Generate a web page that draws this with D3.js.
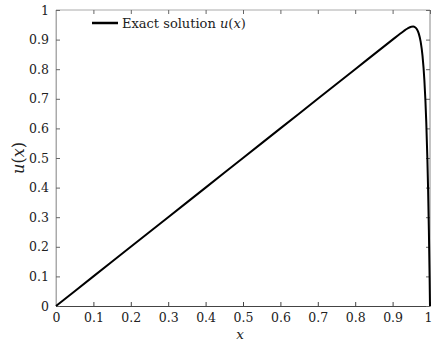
<!DOCTYPE html>
<html><head><meta charset="utf-8">
<script src="https://cdn.jsdelivr.net/npm/d3@7"></script>
<style>body{margin:0;background:#fff}svg{display:block}text{font-family:"DejaVu Serif","Liberation Serif",serif;fill:#222}</style>
</head><body>
<svg id="c" width="432" height="340"></svg>
<script>
const xValues = [0, 0.1, 0.2, 0.3, 0.4, 0.5, 0.6, 0.7, 0.8, 0.9, 0.92, 0.93, 0.94, 0.95, 0.955, 0.96, 0.965, 0.97, 0.975, 0.98, 0.985, 0.99, 0.993, 0.995, 0.997, 0.999, 1.0];
const uValues = [0, 0.1, 0.2, 0.3, 0.4, 0.5, 0.6, 0.7, 0.8, 0.9, 0.9197, 0.9291, 0.9375, 0.9433, 0.9439, 0.9417, 0.9348, 0.9202, 0.8929, 0.8447, 0.7619, 0.6221, 0.4964, 0.3885, 0.2562, 0.0942, 0];
const xTicks = [0, 0.1, 0.2, 0.3, 0.4, 0.5, 0.6, 0.7, 0.8, 0.9, 1];
const yTicks = [0, 0.1, 0.2, 0.3, 0.4, 0.5, 0.6, 0.7, 0.8, 0.9, 1];
const legendLabel = "Exact solution ";

const svg = d3.select("#c");
const L = 56, R = 430, T = 10, B = 306;
const x = d3.scaleLinear().domain([0, 1]).range([L, R]);
const y = d3.scaleLinear().domain([0, 1]).range([B, T]);
const fmt = d => d === 0 ? "0" : d === 1 ? "1" : d3.format(".1f")(d);

// frame
svg.append("line").attr("x1", L).attr("x2", R).attr("y1", T).attr("y2", T).attr("stroke", "#aaa");
svg.append("line").attr("x1", L).attr("x2", L).attr("y1", T).attr("y2", B).attr("stroke", "#aaa");
svg.append("line").attr("x1", R).attr("x2", R).attr("y1", T).attr("y2", B).attr("stroke", "#888");

// bottom axis
const gx = svg.append("g").attr("transform", `translate(0,${B})`)
  .call(d3.axisBottom(x).tickValues(xTicks).tickFormat(fmt).tickSizeInner(-4).tickSizeOuter(0).tickPadding(7));
gx.attr("font-family", null).attr("font-size", null);
gx.select(".domain").attr("stroke", "#444");
gx.selectAll(".tick line").attr("stroke", "#444");
gx.selectAll("text").attr("font-size", 12.5).attr("fill", "#222");
gx.selectAll(".tick").filter(d => d === 1).select("text").attr("dx", -2);

// top ticks
svg.append("g").attr("transform", `translate(0,${T})`)
  .call(d3.axisTop(x).tickValues(xTicks).tickFormat("").tickSizeInner(-4).tickSizeOuter(0))
  .call(g => { g.select(".domain").remove(); g.selectAll(".tick line").attr("stroke", "#666"); });

// left axis
const gy = svg.append("g").attr("transform", `translate(${L},0)`)
  .call(d3.axisLeft(y).tickValues(yTicks).tickFormat(fmt).tickSizeInner(-4).tickSizeOuter(0).tickPadding(7));
gy.attr("font-family", null).attr("font-size", null);
gy.select(".domain").attr("stroke", "#aaa");
gy.selectAll(".tick line").attr("stroke", "#666");
gy.selectAll("text").attr("font-size", 12.5).attr("fill", "#222");

// right ticks
svg.append("g").attr("transform", `translate(${R},0)`)
  .call(d3.axisRight(y).tickValues(yTicks).tickFormat("").tickSizeInner(-4).tickSizeOuter(0))
  .call(g => { g.select(".domain").remove(); g.selectAll(".tick line").attr("stroke", "#666"); });

// curve
const pts = xValues.map((v, i) => [v, uValues[i]]);
svg.append("path").datum(pts)
  .attr("fill", "none").attr("stroke", "#000").attr("stroke-width", 2).attr("stroke-linejoin", "round")
  .attr("d", d3.line().x(d => x(d[0])).y(d => y(d[1])).curve(d3.curveMonotoneX));

// legend
svg.append("line").attr("x1", 92).attr("x2", 118).attr("y1", 23).attr("y2", 23).attr("stroke", "#000").attr("stroke-width", 2.5);
const lt = svg.append("text").attr("x", 122).attr("y", 27.5).attr("font-size", 13);
lt.append("tspan").text(legendLabel);
lt.append("tspan").attr("font-style", "italic").text("u");
lt.append("tspan").text("(");
lt.append("tspan").attr("font-style", "italic").text("x");
lt.append("tspan").text(")");

// axis labels
svg.append("text").attr("x", (L + R) / 2 - 3).attr("y", 338.5).attr("text-anchor", "middle")
  .attr("font-size", 13.5).attr("font-style", "italic").text("x");
const yl = svg.append("text").attr("transform", `translate(24,${(T + B) / 2}) rotate(-90)`).attr("text-anchor", "middle").attr("font-size", 16);
yl.append("tspan").attr("font-style", "italic").text("u");
yl.append("tspan").text("(");
yl.append("tspan").attr("font-style", "italic").text("x");
yl.append("tspan").text(")");
</script>
</body></html>
